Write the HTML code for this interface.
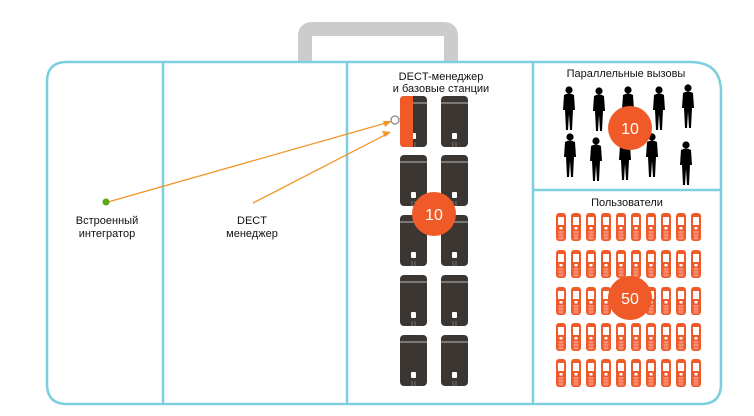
<!DOCTYPE html>
<html><head><meta charset="utf-8"><style>
html,body{margin:0;padding:0;background:#fff;width:754px;height:416px;overflow:hidden}
svg{display:block}
text{font-family:"Liberation Sans",sans-serif;font-size:11px;fill:#111}
</style></head><body>
<svg width="754" height="416" viewBox="0 0 754 416" xmlns="http://www.w3.org/2000/svg">
<defs>
<g id="bs">
<rect x="0" y="0" width="27" height="51" rx="4" fill="#3b3632"/>
<line x1="0" y1="7" x2="27" y2="7" stroke="#bbb" stroke-width="1"/>
<rect x="11" y="37" width="5" height="6" rx="1" fill="#fff"/>
<line x1="12" y1="46" x2="12" y2="51" stroke="#999" stroke-width="0.6"/>
<line x1="15" y1="46" x2="15" y2="51" stroke="#999" stroke-width="0.6"/>
</g>
<g id="ph">
<rect x="0" y="0" width="10" height="28" rx="3" fill="#f05a28"/>
<rect x="2" y="4" width="6" height="8" fill="#fff"/>
<rect x="3.5" y="14" width="3" height="2.5" fill="#fff"/>
<g stroke="#fbb" stroke-width="0.6"><line x1="2" y1="19" x2="8" y2="19"/><line x1="2" y1="22" x2="8" y2="22"/><line x1="2" y1="25" x2="8" y2="25"/><line x1="4" y1="18" x2="4" y2="27"/><line x1="6" y1="18" x2="6" y2="27"/></g>
</g>
<g id="man">
<circle cx="6" cy="4" r="3.6" fill="#000"/>
<path d="M1,9 Q6,6 11,9 L12,24 L10,24 L9,44 L7,44 L6,28 L5,44 L3,44 L2,24 L0,24 Z" fill="#000"/>
</g>
<g id="row">
<use href="#ph" x="556"/><use href="#ph" x="571"/><use href="#ph" x="586"/><use href="#ph" x="601"/><use href="#ph" x="616"/><use href="#ph" x="631"/><use href="#ph" x="646"/><use href="#ph" x="661"/><use href="#ph" x="676"/><use href="#ph" x="691"/>
</g>
</defs>
<!-- handle -->
<path d="M305,62 L305,36 Q305,29 312,29 L444,29 Q451,29 451,36 L451,62" fill="none" stroke="#cccccc" stroke-width="14"/>
<!-- case -->
<path d="M67,62 L690,62 Q721,62 721,92 L721,384 Q721,404 701,404 L67,404 Q47,404 47,384 L47,82 Q47,62 67,62 Z" fill="#fff" stroke="#7dcfe0" stroke-width="2.5"/>
<g stroke="#7dcfe0" stroke-width="2.5">
<line x1="163" y1="62" x2="163" y2="404"/>
<line x1="347" y1="62" x2="347" y2="404"/>
<line x1="533" y1="62" x2="533" y2="404"/>
<line x1="533" y1="190" x2="721" y2="190"/>
</g>
<!-- labels -->
<text x="441" y="80" text-anchor="middle">DECT-менеджер</text>
<text x="441" y="92" text-anchor="middle">и базовые станции</text>
<text x="626" y="77" text-anchor="middle">Параллельные вызовы</text>
<text x="627" y="206" text-anchor="middle">Пользователи</text>
<text x="107" y="224" text-anchor="middle">Встроенный</text>
<text x="107" y="237" text-anchor="middle">интегратор</text>
<text x="252" y="224" text-anchor="middle">DECT</text>
<text x="252" y="237" text-anchor="middle">менеджер</text>
<!-- base stations -->
<use href="#bs" x="400" y="96"/><use href="#bs" x="441" y="96"/>
<path d="M404,96 L413,96 L413,147 L404,147 Q400,147 400,143 L400,100 Q400,96 404,96 Z" fill="#f05a28"/>
<use href="#bs" x="400" y="155"/><use href="#bs" x="441" y="155"/>
<use href="#bs" x="400" y="215"/><use href="#bs" x="441" y="215"/>
<use href="#bs" x="400" y="275"/><use href="#bs" x="441" y="275"/>
<use href="#bs" x="400" y="335"/><use href="#bs" x="441" y="335"/>
<!-- phones -->
<use href="#row" y="213"/><use href="#row" y="250"/><use href="#row" y="287"/><use href="#row" y="323"/><use href="#row" y="359"/>
<!-- people -->
<use href="#man" x="563" y="86"/><use href="#man" x="593" y="87"/><use href="#man" x="622" y="86"/><use href="#man" x="653" y="86"/><use href="#man" x="682" y="84"/>
<use href="#man" x="564" y="133"/><use href="#man" x="590" y="137"/><use href="#man" x="619" y="136"/><use href="#man" x="646" y="133"/><use href="#man" x="680" y="141"/>
<!-- connectors -->
<g stroke="#f0952a" stroke-width="1.3" fill="#f0952a">
<line x1="108" y1="202" x2="386" y2="123"/>
<line x1="253" y1="203" x2="385" y2="135"/>
</g>
<polygon points="392,121 383,121 385,127" fill="#f0952a"/>
<polygon points="391,132 382,131 385,137" fill="#f0952a"/>
<circle cx="395" cy="120" r="4" fill="#fff" stroke="#888" stroke-width="1.3"/>
<circle cx="106" cy="202" r="3.5" fill="#5aa718"/>
<!-- badges -->
<circle cx="434" cy="214" r="22" fill="#ef5a28"/>
<text x="434" y="220" text-anchor="middle" style="font-size:16px;fill:#fff">10</text>
<circle cx="630" cy="128" r="22" fill="#ef5a28"/>
<text x="630" y="134" text-anchor="middle" style="font-size:16px;fill:#fff">10</text>
<circle cx="630" cy="298" r="22" fill="#ef5a28"/>
<text x="630" y="304" text-anchor="middle" style="font-size:16px;fill:#fff">50</text>
</svg>
</body></html>
